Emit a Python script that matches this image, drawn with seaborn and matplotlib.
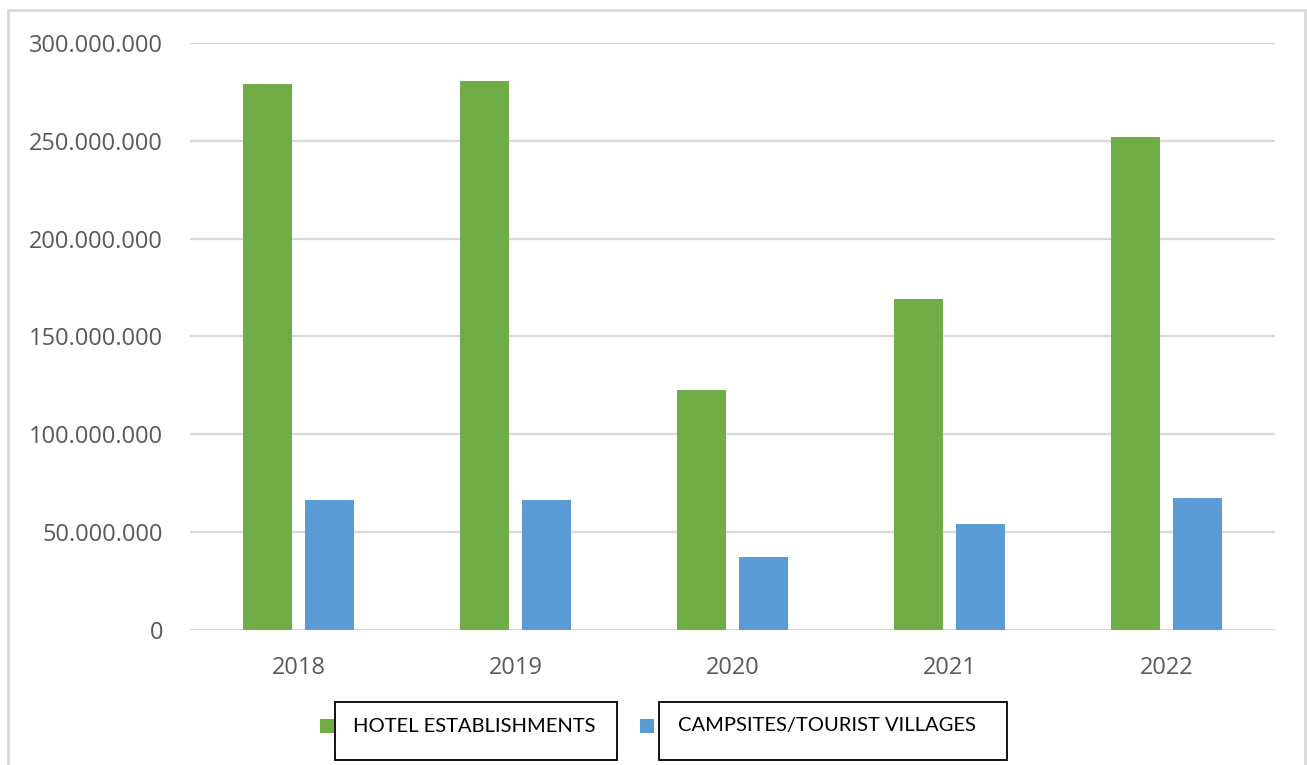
import matplotlib
matplotlib.use("Agg")
import matplotlib.pyplot as plt
from matplotlib.patches import Rectangle
from matplotlib.ticker import FuncFormatter, MultipleLocator
import pandas as pd
import seaborn as sns

# Overnight stays by type of accommodation
years = ["2018", "2019", "2020", "2021", "2022"]
hotel = [279_000_000, 280_500_000, 122_600_000, 169_100_000, 251_900_000]
campsites = [66_400_000, 66_400_000, 37_300_000, 54_200_000, 67_300_000]
series_names = ["HOTEL ESTABLISHMENTS", "CAMPSITES/TOURIST VILLAGES"]
series_colors = ["#70AD47", "#5B9BD5"]

df = pd.DataFrame({
    "year": years * 2,
    "value": hotel + campsites,
    "type": [series_names[0]] * len(years) + [series_names[1]] * len(years),
})

sns.set_theme(style="white")
plt.rcParams["font.family"] = ["Open Sans", "DejaVu Sans"]

W, H = 1307, 765
fig = plt.figure(figsize=(W / 100, H / 100), dpi=100)
ax = fig.add_axes([190 / W, 1 - 630 / H, (1275 - 190) / W, (630 - 43) / H])

sns.barplot(
    data=df, x="year", y="value", hue="type", order=years,
    hue_order=series_names, palette=series_colors,
    width=0.572, gap=0.21, saturation=1, ax=ax, legend=False,
    edgecolor="none",
)

ax.set_ylim(0, 300_000_000)
ax.set_xlim(-0.5, len(years) - 0.5)
ax.yaxis.set_major_locator(MultipleLocator(50_000_000))
ax.yaxis.set_major_formatter(
    FuncFormatter(lambda v, _: f"{int(round(v)):,}".replace(",", "."))
)
ax.set_xlabel("")
ax.set_ylabel("")
for s in ax.spines.values():
    s.set_visible(False)
ax.grid(axis="y", color="#D9D9D9", linewidth=1.6)
ax.set_axisbelow(True)
ax.tick_params(axis="y", length=0, pad=19.5, labelsize=17, labelcolor="#595959")
ax.tick_params(axis="x", length=0, pad=19, labelsize=17, labelcolor="#595959")

# outer chart frame
fig.add_artist(Rectangle((8 / W, -0.05), (1305 - 8) / W, 1.05 - 10 / H,
                         transform=fig.transFigure, fill=False,
                         edgecolor="#D9D9D9", linewidth=2))

# legend: colour keys with boxed labels
legend_items = [
    (320, 335, 617, 353),
    (640, 659, 1007, 678),
]
for (sq_x, box_l, box_r, txt_x), name, color in zip(legend_items, series_names, series_colors):
    fig.add_artist(Rectangle((sq_x / W, 1 - 733 / H), 14 / W, 14 / H,
                             transform=fig.transFigure, facecolor=color,
                             edgecolor="none"))
    fig.add_artist(Rectangle((box_l / W, 1 - 760 / H), (box_r - box_l) / W, 58 / H,
                             transform=fig.transFigure, fill=False,
                             edgecolor="black", linewidth=1.3))
    fig.text(txt_x / W, 1 - 726 / H, name, ha="left", va="center",
             fontsize=14.5, color="black", family=["Lato", "DejaVu Sans"])

fig.savefig("out.png", dpi=100)
